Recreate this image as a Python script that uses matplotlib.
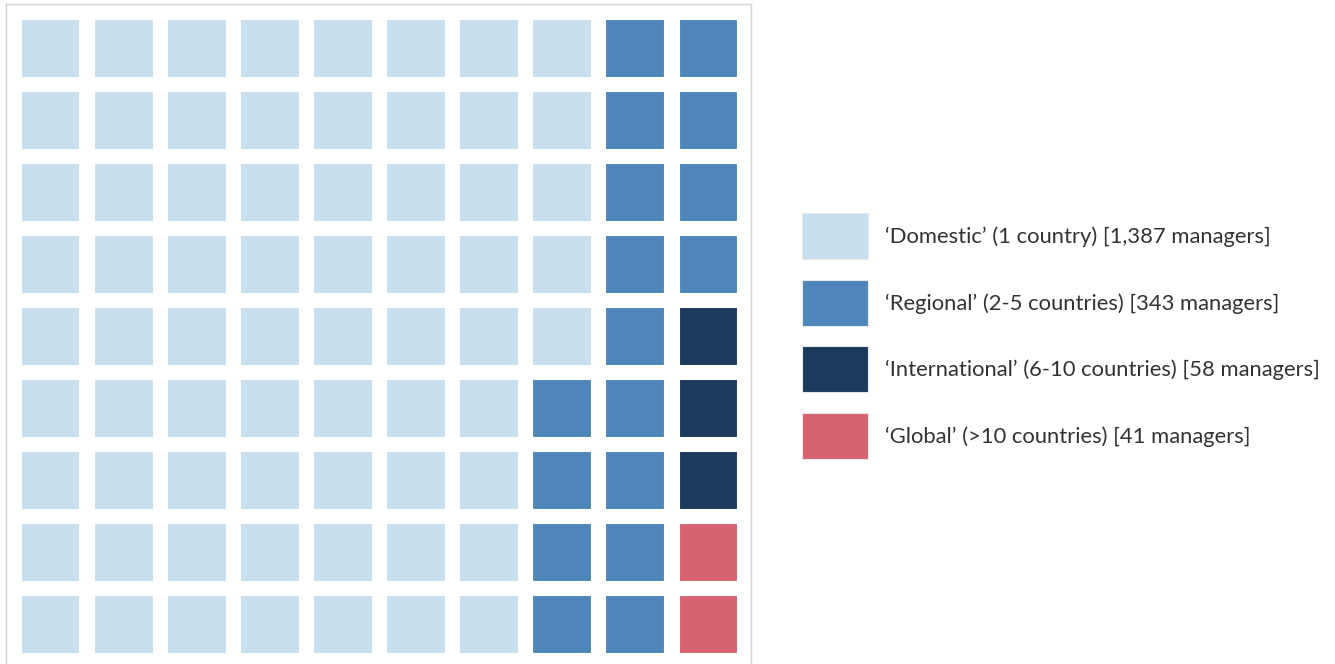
import matplotlib.pyplot as plt
from matplotlib.patches import Rectangle

# waffle: 9 rows x 10 columns, one square per ~1/90 of managers
categories = ["\u2018Domestic\u2019 (1 country) [1,387 managers]",
              "\u2018Regional\u2019 (2-5 countries) [343 managers]",
              "\u2018International\u2019 (6-10 countries) [58 managers]",
              "\u2018Global\u2019 (>10 countries) [41 managers]"]
squares = [68, 17, 3, 2]
colors = ['#c7dfee', '#4f86b9', '#1b3a5c', '#d6636f']
n_rows, n_cols = 9, 10

plt.rcParams['font.family'] = ['Lato', 'DejaVu Sans']

fig = plt.figure(figsize=(13.35, 6.64), dpi=100)

# fill order: right column first, bottom to top, smallest category first
order = []
for k in reversed(range(len(squares))):
    order += [k] * squares[k]
cells = []
for c in reversed(range(n_cols)):
    for r in reversed(range(n_rows)):
        cells.append((r, c))

W, H = 1335, 664
ax = fig.add_axes([6 / W, 1 - 670 / H, (751 - 6) / W, (670 - 4) / H])
for (r, c), k in zip(cells, order):
    ax.add_patch(Rectangle((c, r), 0.8, 0.8, facecolor=colors[k],
                           edgecolor='white', linewidth=0.8))
ax.set_xlim(-15 / 73.06, 9.8 + 14 / 73.06)
ax.set_ylim(8.8 + 17 / 72.05, -15 / 72.05)
ax.set_xticks([])
ax.set_yticks([])
for s in ax.spines.values():
    s.set_color('#d4d4d4')
    s.set_linewidth(1.0)

# legend drawn by hand
lax = fig.add_axes([802 / W, 1 - 460 / H, (W - 802) / W, (460 - 213) / H])
lax.set_xlim(0, W - 802)
lax.set_ylim(460 - 213, 0)
lax.axis('off')
for i, (lab, col) in enumerate(zip(categories, colors)):
    y0 = i * 66.5
    lax.add_patch(Rectangle((0, y0), 66, 46, facecolor=col,
                            edgecolor='#e8e8e8', linewidth=0.8))
    lax.text(83, y0 + 24, lab, va='center', ha='left', fontsize=15.8,
             color='#333333')

fig.savefig('out.png', dpi=100)
